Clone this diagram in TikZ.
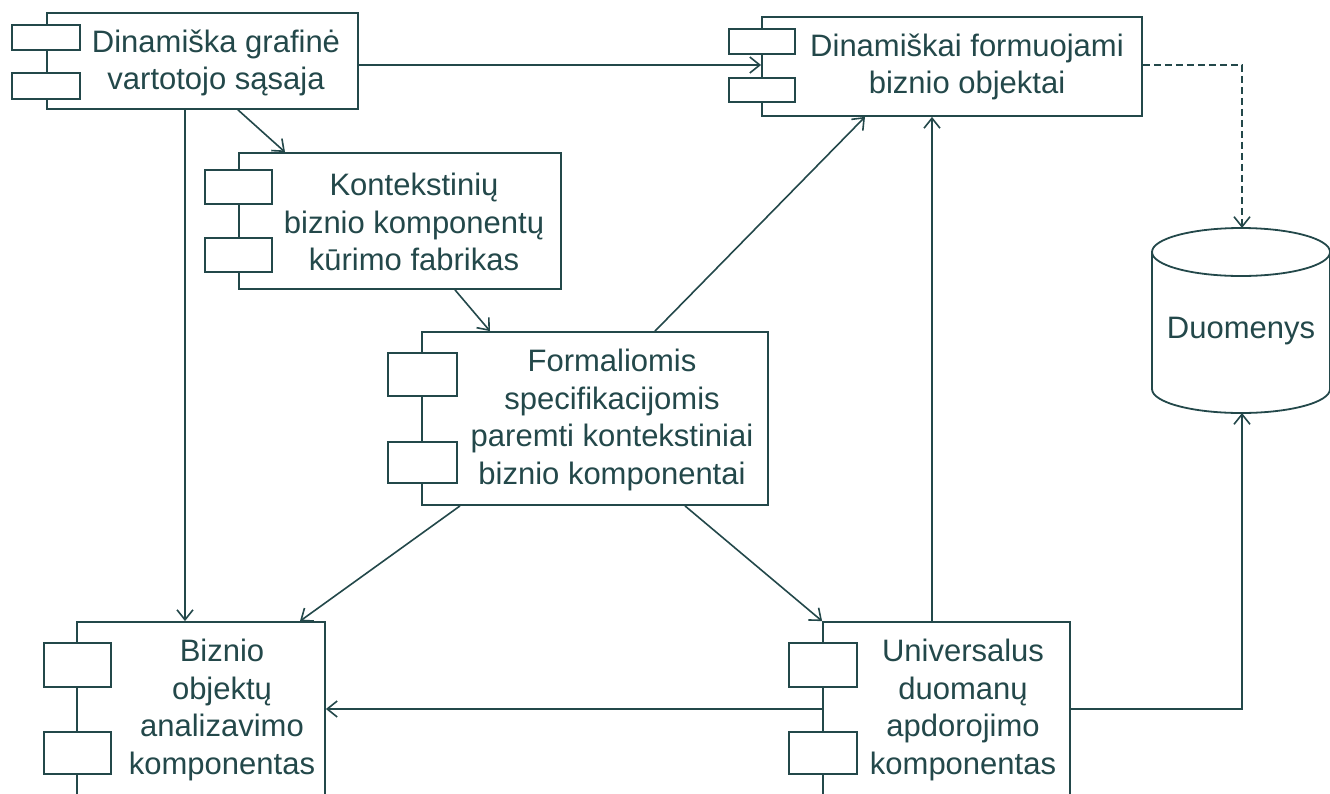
\documentclass[tikz,border=0pt]{standalone}
\usepackage{fontspec}
\setmainfont{Liberation Sans}
\usetikzlibrary{arrows.meta}
\definecolor{lc}{RGB}{35,72,74}
\newcommand\fsz{\fontsize{31}{37.5}\selectfont}
\tikzset{
  comp/.style={draw=lc, line width=1.8pt, fill=white, inner sep=0pt, rectangle},
  port/.style={draw=lc, line width=1.8pt, fill=white, inner sep=0pt, rectangle},
  lbl/.style={text=lc, align=center, font=\fsz, inner sep=0pt},
  conn/.style={draw=lc, line width=1.6pt, -{Straight Barb[length=10pt,width=16pt,line width=1.6pt]}},
  dconn/.style={conn, dash pattern=on 7pt off 4pt},
  cyl/.style={draw=lc, line width=1.8pt, fill=white}
}
\begin{document}
\begin{tikzpicture}[x=1pt,y=-1pt]
\useasboundingbox (0,0) rectangle (1330,793);
\clip (0,0) rectangle (1330,793);
\fill[white] (0,0) rectangle (1330,793);

% helper coordinates
\coordinate (xa) at (185,0);
\coordinate (ya) at (0,709);
\coordinate (yb) at (0,65);
\coordinate (dbtop) at (1242,228);
\coordinate (dbbot) at (1242,413);

% cylinder
\draw[cyl] (1152,252) -- (1152,389) arc[start angle=180,end angle=360,x radius=89pt,y radius=24pt] -- (1330,252);
\draw[cyl] (1241,252) ellipse [x radius=89pt, y radius=24pt];
\node[lbl] (dbt) at (1241,331) {Duomenys};

% main boxes
\node[comp, minimum width=311, minimum height=96] (b1) at (202.5,61) {};
\node[comp, minimum width=380, minimum height=99] (b2) at (952,66.5) {};
\node[comp, minimum width=322, minimum height=136] (b3) at (400,221) {};
\node[comp, minimum width=346, minimum height=173] (b4) at (595,418.5) {};
\node[comp, minimum width=248, minimum height=200] (b5) at (201,722) {};
\node[comp, minimum width=247, minimum height=200] (b6) at (946.5,722) {};

% ports
\node[port, minimum width=68, minimum height=25] (p1a) at (46,37.5) {};
\node[port, minimum width=68, minimum height=26] (p1b) at (46,86) {};
\node[port, minimum width=66, minimum height=25] (p2a) at (762,41.5) {};
\node[port, minimum width=66, minimum height=24] (p2b) at (762,90) {};
\node[port, minimum width=67, minimum height=34] (p3a) at (238.5,187) {};
\node[port, minimum width=67, minimum height=34] (p3b) at (238.5,255) {};
\node[port, minimum width=69, minimum height=43] (p4a) at (422.5,374.5) {};
\node[port, minimum width=69, minimum height=41] (p4b) at (422.5,462.5) {};
\node[port, minimum width=67, minimum height=44] (p5a) at (77.5,665) {};
\node[port, minimum width=67, minimum height=42] (p5b) at (77.5,753) {};
\node[port, minimum width=68, minimum height=44] (p6a) at (823,665) {};
\node[port, minimum width=68, minimum height=42] (p6b) at (823,753) {};

% labels
\node[lbl] (t1) at (216,63) {Dinamiška grafinė\\vartotojo sąsaja};
\node[lbl] (t2) at (967,67) {Dinamiškai formuojami\\biznio objektai};
\node[lbl] (t3) at (414,222) {Kontekstinių\\biznio komponentų\\kūrimo fabrikas};
\node[lbl] (t4) at (612,420) {Formaliomis\\specifikacijomis\\paremti kontekstiniai\\biznio komponentai};
\node[lbl] (t5) at (222,710) {Biznio\\objektų\\analizavimo\\komponentas};
\node[lbl] (t6) at (963,710) {Universalus\\duomanų\\apdorojimo\\komponentas};

% connectors
\draw[conn] (b1.east |- yb) -- (b2.west |- yb);
\draw[conn] (b1.south -| xa) -- (b5.north -| xa);
\draw[conn] ([xshift=35.5]b1.south) -- ([xshift=-115]b3.north);
\draw[conn] ([xshift=55]b3.south) -- ([xshift=-105]b4.north);
\draw[conn] ([xshift=60]b4.north) -- ([xshift=-87]b2.south);
\draw[conn] ([xshift=-14.5]b6.north) -- ([xshift=-20]b2.south);
\draw[dconn] (b2.east |- yb) -| (dbtop);
\draw[conn] ([xshift=-135]b4.south) -- ([xshift=99]b5.north);
\draw[conn] ([xshift=90]b4.south) -- (b6.north west);
\draw[conn] (b6.west |- ya) -- (b5.east |- ya);
\draw[conn] (b6.east |- ya) -| (dbbot);
\end{tikzpicture}
\end{document}
